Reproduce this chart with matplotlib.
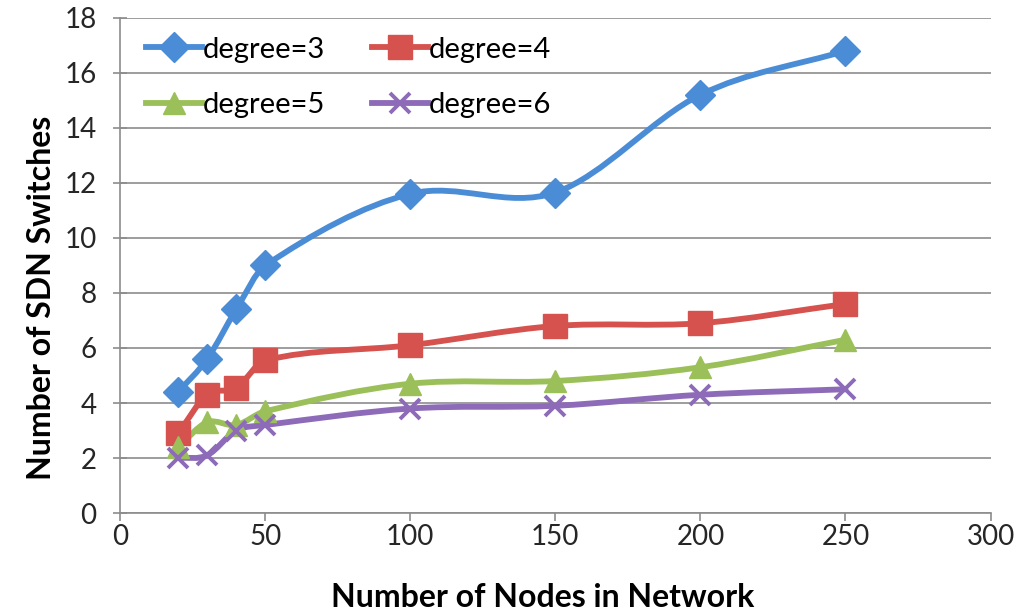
import numpy as np
import matplotlib.pyplot as plt
from matplotlib.path import Path
from matplotlib.patches import PathPatch
from matplotlib.lines import Line2D

plt.rcParams['font.family'] = ['Lato', 'DejaVu Sans']

nodes = [20, 30, 40, 50, 100, 150, 200, 250]
deg3 = [4.4, 5.6, 7.4, 9.0, 11.6, 11.65, 15.2, 16.8]
deg4 = [2.9, 4.3, 4.55, 5.55, 6.1, 6.8, 6.9, 7.6]
deg5 = [2.4, 3.3, 3.2, 3.7, 4.7, 4.8, 5.3, 6.3]
deg6 = [2.0, 2.1, 3.0, 3.2, 3.8, 3.9, 4.3, 4.5]
labels = ['degree=3', 'degree=4', 'degree=5', 'degree=6']

colors = ['#4A8DD6', '#D5524E', '#9BC059', '#8D6BB8']
markers = ['D', 's', '^', 'x']
msizes = [15, 17, 16, 14]


def smooth_path(x, y):
    # cubic hermite pieces (finite-difference slopes) as bezier curves
    x = np.asarray(x, float)
    y = np.asarray(y, float)
    n = len(x)
    m = np.empty(n)
    for i in range(n):
        a = max(i - 1, 0)
        b = min(i + 1, n - 1)
        m[i] = (y[b] - y[a]) / (x[b] - x[a])
    verts = [(x[0], y[0])]
    codes = [Path.MOVETO]
    for i in range(n - 1):
        h = (x[i + 1] - x[i]) / 3
        verts += [(x[i] + h, y[i] + m[i] * h),
                  (x[i + 1] - h, y[i + 1] - m[i + 1] * h),
                  (x[i + 1], y[i + 1])]
        codes += [Path.CURVE4] * 3
    return Path(verts, codes)


fig = plt.figure(figsize=(10.18, 6.13), dpi=100)
ax = fig.add_axes([0.118, 0.163, 0.855, 0.808])

handles = []
for ys, c, m, ms, lab in zip([deg3, deg4, deg5, deg6], colors, markers, msizes, labels):
    ax.add_patch(PathPatch(smooth_path(nodes, ys), fill=False, edgecolor=c,
                           lw=4.2, capstyle='round', joinstyle='round', zorder=3))
    mew = 2.8 if m == 'x' else 1
    ax.plot(nodes, ys, linestyle='none', marker=m, markersize=ms, color=c,
            markeredgecolor=c, markeredgewidth=mew, zorder=4)
    handles.append(Line2D([], [], color=c, lw=4.2, marker=m, markersize=ms,
                          markeredgewidth=mew, label=lab))

ax.set_xlim(0, 300)
ax.set_ylim(0, 18)
ax.set_xticks(range(0, 301, 50))
ax.set_yticks(range(0, 19, 2))
ax.yaxis.grid(True, color='#8C8C8C', lw=1.2)
ax.set_axisbelow(True)

for side in ['top', 'right']:
    ax.spines[side].set_visible(False)
for side in ['left', 'bottom']:
    ax.spines[side].set_color('#8C8C8C')
    ax.spines[side].set_linewidth(1.2)
ax.tick_params(axis='both', colors='#8C8C8C', labelcolor='#262626',
               labelsize=20, length=6, width=1.2)
ax.tick_params(axis='y', direction='inout', length=10, pad=12)
ax.tick_params(axis='x', direction='out', pad=2)

ax.set_xlabel('Number of Nodes in Network', fontsize=23, fontweight='bold')
ax.set_ylabel('Number of SDN Switches', fontsize=23, fontweight='bold')
ax.xaxis.set_label_coords(0.485, -0.141)
ax.yaxis.set_label_coords(-0.074, 0.434)

# column-major fill: put 3/4 on the first row, 5/6 on the second
order = [0, 2, 1, 3]
ax.legend(handles=[handles[i] for i in order], ncol=2, loc='upper left',
          frameon=False, fontsize=21, handlelength=1.9, handletextpad=0.05,
          columnspacing=1.6, labelspacing=1.0,
          bbox_to_anchor=(0.0, 1.015))

fig.savefig('out.png', dpi=100)
